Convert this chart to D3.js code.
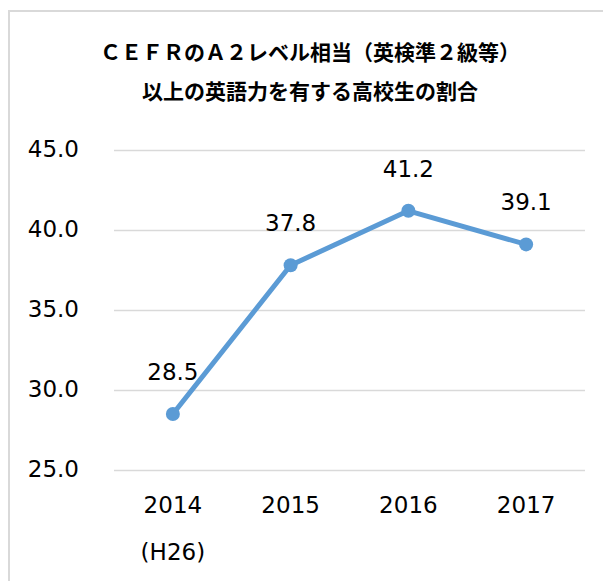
<!DOCTYPE html>
<html>
<head>
<meta charset="utf-8">
<script src="https://cdn.jsdelivr.net/npm/d3@7"></script>
<style>
  html, body { margin: 0; padding: 0; background: #fff; }
  svg { display: block; }
</style>
</head>
<body>
<script>
const titleLines = ["ＣＥＦＲのＡ２レベル相当（英検準２級等）", "以上の英語力を有する高校生の割合"];
const categories = ["2014", "2015", "2016", "2017"];
const subLabels = ["(H26)", "", "", ""];
const values = [28.5, 37.8, 41.2, 39.1];
const yTicks = [25, 30, 35, 40, 45];

const W = 603, H = 581;
const svg = d3.select("body").append("svg").attr("width", W).attr("height", H);

// chart frame (extends past window on right/bottom)
svg.append("rect").attr("x", 9).attr("y", 11).attr("width", 610).attr("height", 600)
  .attr("fill", "#fff").attr("stroke", "#d9d9d9").attr("stroke-width", 2);

const plot = { left: 114, right: 585, top: 150, bottom: 470 };
const x = d3.scaleBand().domain(categories).range([plot.left, plot.right]);
const y = d3.scaleLinear().domain([25, 45]).range([plot.bottom, plot.top]);

const numFont = "'DejaVu Sans', Verdana, sans-serif";

// title
svg.append("g").selectAll("text").data(titleLines).join("text")
  .attr("x", 310).attr("y", (d, i) => 60 + i * 39)
  .attr("text-anchor", "middle")
  .attr("font-family", "'Noto Sans CJK JP', sans-serif")
  .attr("font-weight", "bold").attr("font-size", 21).attr("fill", "#000")
  .text(d => d);

// y axis with gridlines
const yAxis = svg.append("g").attr("transform", `translate(${plot.left},0)`)
  .call(d3.axisLeft(y).tickValues(yTicks).tickFormat(d3.format(".1f"))
    .tickSize(-(plot.right - plot.left)).tickPadding(35));
yAxis.select(".domain").remove();
yAxis.selectAll(".tick line").attr("stroke", "#d9d9d9").attr("stroke-width", 1.5);
yAxis.selectAll(".tick text").attr("font-family", numFont).attr("font-size", 23)
  .attr("fill", "#000").attr("dy", "0.28em");

// x axis
const xAxis = svg.append("g").attr("transform", `translate(0,${plot.bottom})`)
  .call(d3.axisBottom(x).tickSize(0).tickPadding(0));
xAxis.select(".domain").remove();
xAxis.selectAll(".tick text").attr("font-family", numFont).attr("font-size", 23)
  .attr("fill", "#000").attr("dy", null).attr("y", 43);
svg.append("g").selectAll("text").data(categories).join("text")
  .attr("x", d => x(d) + x.bandwidth() / 2).attr("y", 560)
  .attr("text-anchor", "middle").attr("font-family", numFont).attr("font-size", 23)
  .attr("fill", "#000")
  .text((d, i) => subLabels[i]);

// line
const pts = categories.map((c, i) => ({ c, v: values[i] }));
const cx = d => x(d.c) + x.bandwidth() / 2;
svg.append("path").datum(pts)
  .attr("fill", "none").attr("stroke", "#5b9bd5").attr("stroke-width", 5)
  .attr("stroke-linejoin", "round").attr("stroke-linecap", "round")
  .attr("d", d3.line().x(cx).y(d => y(d.v)));

svg.append("g").selectAll("circle").data(pts).join("circle")
  .attr("cx", cx).attr("cy", d => y(d.v)).attr("r", 7)
  .attr("fill", "#5b9bd5");

// data labels
svg.append("g").selectAll("text").data(pts).join("text")
  .attr("x", cx).attr("y", d => y(d.v) - 34)
  .attr("text-anchor", "middle").attr("font-family", numFont).attr("font-size", 23)
  .attr("fill", "#000")
  .text(d => d3.format(".1f")(d.v));
</script>
</body>
</html>
